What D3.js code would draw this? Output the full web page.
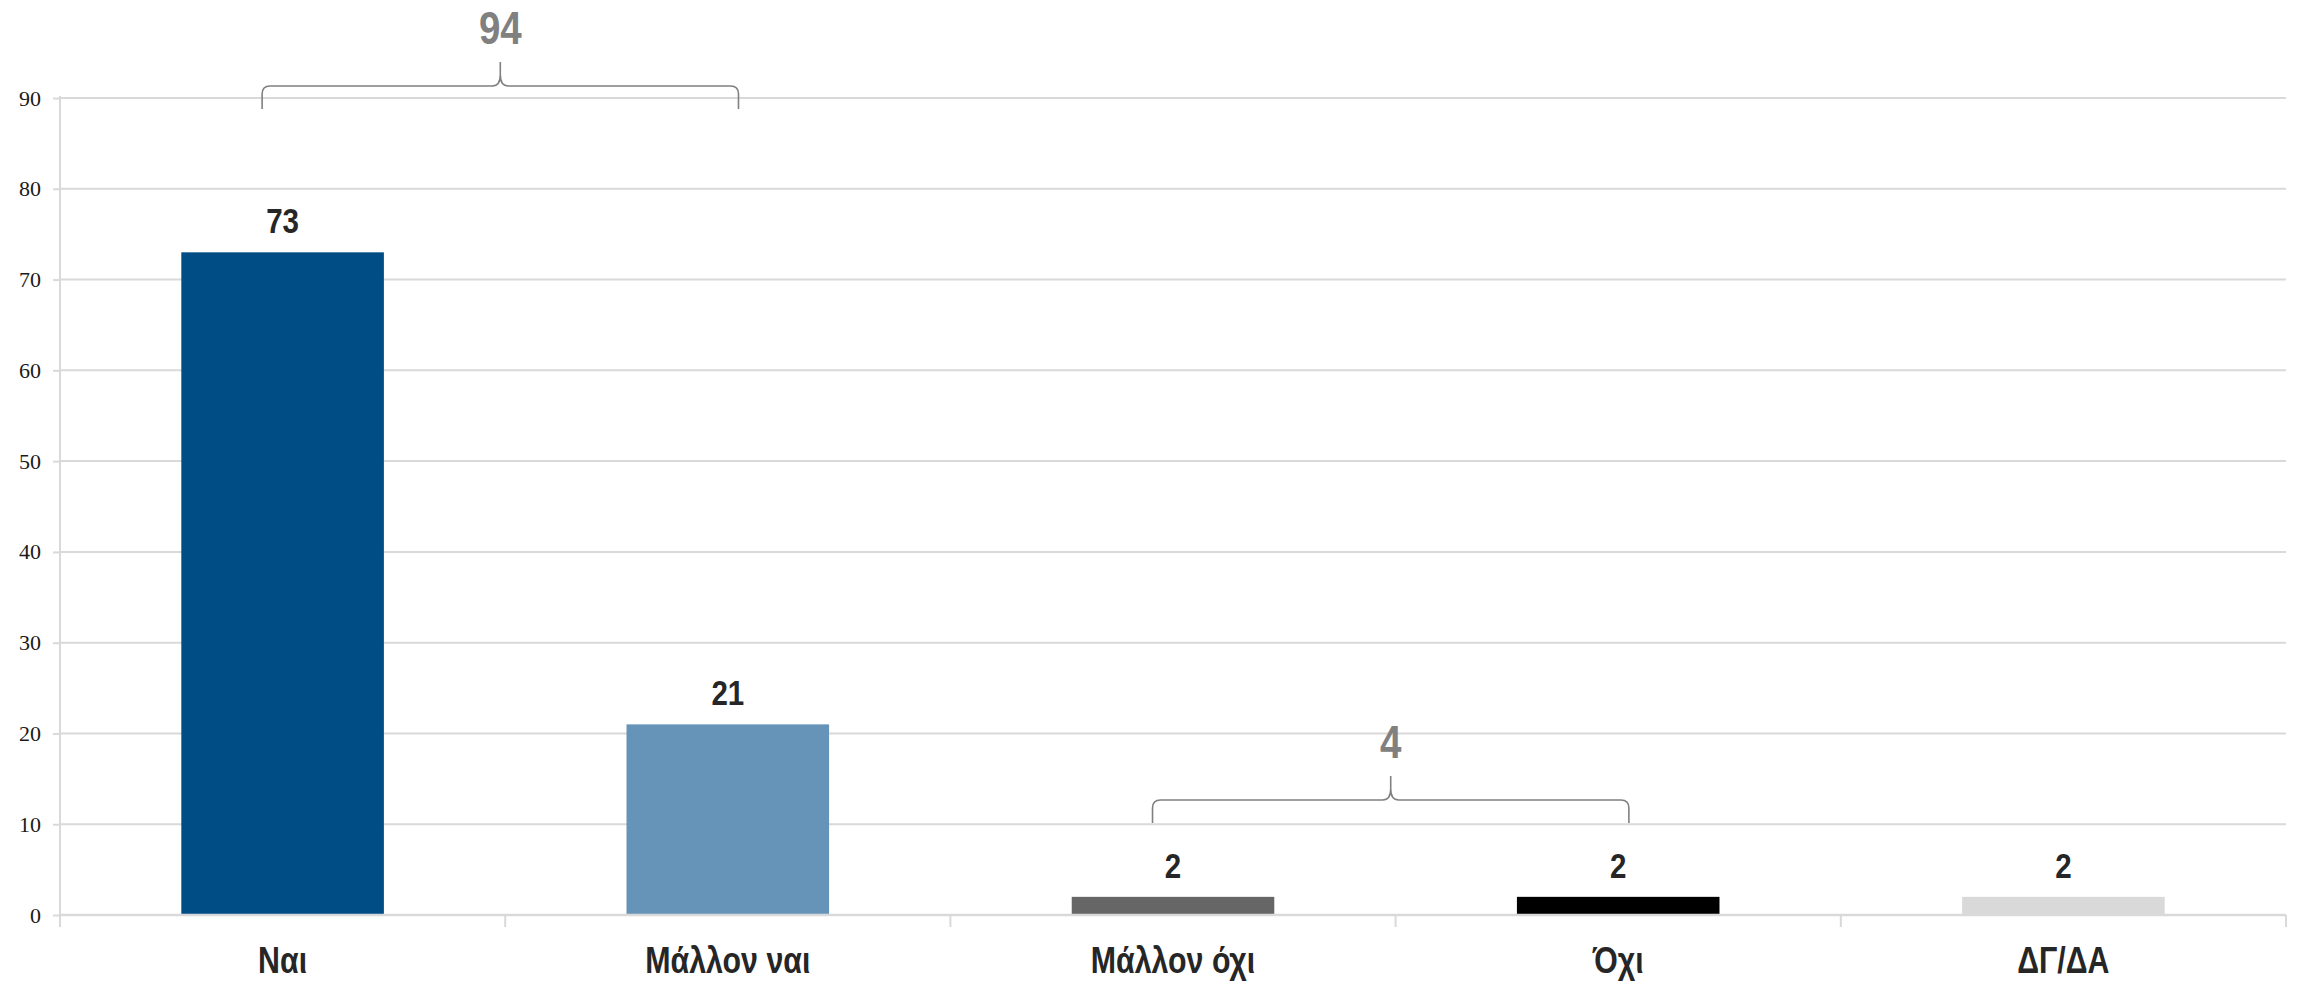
<!DOCTYPE html>
<html>
<head>
<meta charset="utf-8">
<script src="https://cdn.jsdelivr.net/npm/d3@7"></script>
<style>
  html, body { margin: 0; padding: 0; background: #ffffff; }
  svg { display: block; }
</style>
</head>
<body>
<svg id="chart" width="2301" height="986"></svg>
<script>
// ---- data ----
const categories = ["Ναι", "Μάλλον ναι", "Μάλλον όχι", "Όχι", "ΔΓ/ΔΑ"];
const values = [73, 21, 2, 2, 2];
const barColors = ["#004c84", "#6694b8", "#666666", "#000000", "#d9d9d9"];
const yTicks = [0, 10, 20, 30, 40, 50, 60, 70, 80, 90];
const groupTotals = [94, 4];
const groupFirst = [0, 2];
const groupLast = [1, 3];

// ---- layout ----
const W = 2301, H = 986;
const plot = { left: 60, right: 2286, top: 98, bottom: 915 };
const narrowFont = "'Liberation Sans', Arial, sans-serif";
const narrowScale = 0.82;

const svg = d3.select("#chart");
svg.append("rect").attr("width", W).attr("height", H).attr("fill", "#fff");

const x = d3.scaleBand().domain(categories).range([plot.left, plot.right]).paddingInner(0).paddingOuter(0);
const y = d3.scaleLinear().domain([0, 90]).range([plot.bottom, plot.top]);
const bw = x.bandwidth();
const barW = bw * 0.455;

// helper: narrow bold text via horizontal scale
function narrowText(parent, cx, cy, txt, size, color) {
  return parent.append("text")
    .attr("transform", `translate(${cx},${cy}) scale(${narrowScale},1)`)
    .attr("text-anchor", "middle")
    .attr("font-family", narrowFont).attr("font-weight", "bold")
    .attr("font-size", size).attr("fill", color)
    .text(txt);
}

// gridlines
svg.append("g").selectAll("line").data(yTicks.filter(d => d > 0)).join("line")
  .attr("x1", plot.left).attr("x2", plot.right)
  .attr("y1", d => y(d)).attr("y2", d => y(d))
  .attr("stroke", "#d9d9d9").attr("stroke-width", 2);

// bars
svg.append("g").selectAll("rect").data(categories).join("rect")
  .attr("x", d => x(d) + bw / 2 - barW / 2)
  .attr("width", barW)
  .attr("y", (d, i) => y(values[i]))
  .attr("height", (d, i) => y(0) - y(values[i]))
  .attr("fill", (d, i) => barColors[i]);

// y axis
const yAxis = d3.axisLeft(y).tickValues(yTicks).tickSize(7).tickPadding(12).tickFormat(d3.format("d"));
const gy = svg.append("g").attr("transform", `translate(${plot.left},0)`).call(yAxis);
gy.select(".domain").remove();
gy.selectAll(".tick line").attr("stroke", "#d9d9d9").attr("stroke-width", 2);
gy.selectAll(".tick text").attr("font-family", "'Liberation Serif', 'Times New Roman', serif")
  .attr("font-size", 22).attr("fill", "#1a1a1a");
svg.append("line").attr("x1", plot.left).attr("x2", plot.left)
  .attr("y1", plot.top - 2).attr("y2", plot.bottom + 12)
  .attr("stroke", "#d9d9d9").attr("stroke-width", 2);

// x axis
const xAxis = d3.axisBottom(x).tickSize(0).tickFormat("");
const gx = svg.append("g").attr("transform", `translate(0,${plot.bottom})`).call(xAxis);
gx.select(".domain").attr("stroke", "#d9d9d9").attr("stroke-width", 2.5)
  .attr("d", `M${plot.left},0H${plot.right}`);
gx.selectAll(".tick").each(function (d) {
  narrowText(d3.select(this), 0, 58, d, 37, "#262626");
});
// category separators
svg.append("g").selectAll("line").data(categories).join("line")
  .attr("x1", d => x(d) + bw).attr("x2", d => x(d) + bw)
  .attr("y1", plot.bottom).attr("y2", plot.bottom + 12)
  .attr("stroke", "#d9d9d9").attr("stroke-width", 2);

// value labels
const gv = svg.append("g");
categories.forEach((c, i) => {
  narrowText(gv, x(c) + bw / 2, y(values[i]) - 19, values[i], 36, "#262626");
});

// braces
const braceBottom = [109, 823];
const r = 8;
groupTotals.forEach((t, g) => {
  const x0 = x(categories[groupFirst[g]]) + bw / 2 - bw * 0.046;
  const x1 = x(categories[groupLast[g]]) + bw / 2 + bw * 0.024;
  const xm = (x0 + x1) / 2;
  const yb = braceBottom[g];
  const yh = yb - 23;
  const yp = yh - 24;
  const p = d3.path();
  p.moveTo(x0, yb);
  p.lineTo(x0, yh + r);
  p.quadraticCurveTo(x0, yh, x0 + r, yh);
  p.lineTo(xm - r, yh);
  p.quadraticCurveTo(xm, yh, xm, yh - r * 1.4);
  p.lineTo(xm, yp);
  p.moveTo(xm, yh - r * 1.4);
  p.quadraticCurveTo(xm, yh, xm + r, yh);
  p.lineTo(x1 - r, yh);
  p.quadraticCurveTo(x1, yh, x1, yh + r);
  p.lineTo(x1, yb);
  svg.append("path").attr("d", p.toString()).attr("fill", "none")
    .attr("stroke", "#808080").attr("stroke-width", 1.6);
  narrowText(svg, xm, yp - 18, t, 47, "#808080");
});
</script>
</body>
</html>
